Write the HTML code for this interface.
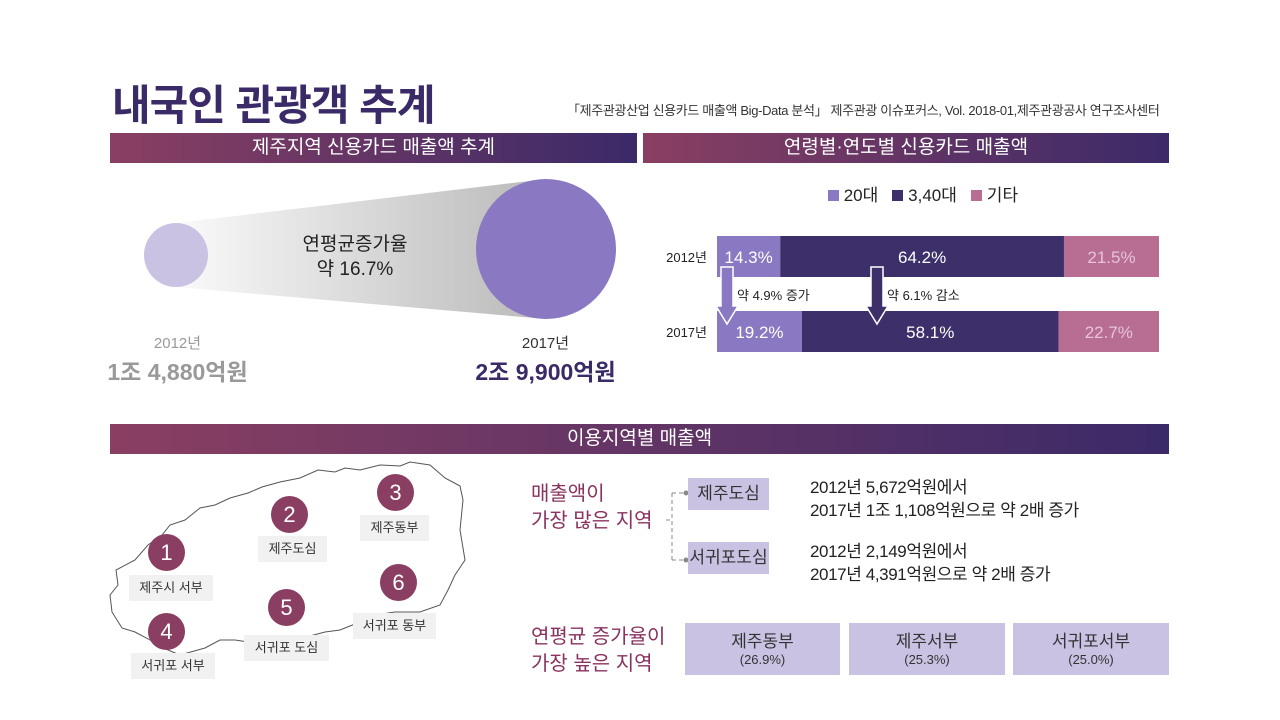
<!DOCTYPE html>
<html><head><meta charset="utf-8">
<style>
*{margin:0;padding:0;box-sizing:border-box}
body{width:1280px;height:720px;background:#fff;position:relative;overflow:hidden;font-family:"Liberation Sans","Noto Sans CJK KR",sans-serif;color:#222}
.a{position:absolute}
.hdr{position:absolute;height:30px;background:linear-gradient(90deg,#8a3f62,#3b2a68);color:#fff;font-size:19px;text-align:center;line-height:30px}
.lbl{position:absolute;background:#f1f1f1;font-size:13px;text-align:center;line-height:26px;color:#333}
.num{position:absolute;width:37px;height:37px;border-radius:50%;background:#8a3f62;color:#fff;font-size:22px;text-align:center;line-height:37px}
.box{position:absolute;background:#c9c2e3;text-align:center;color:#333}
</style></head><body>
<div class="a" style="left:112px;top:72px;font-size:42px;font-weight:bold;color:#3b2a68;letter-spacing:-1px">내국인 관광객 추계</div>
<div class="a" style="left:567px;top:100px;font-size:13px;color:#333;letter-spacing:-0.35px">「제주관광산업 신용카드 매출액 Big-Data 분석」 제주관광 이슈포커스, Vol. 2018-01,제주관광공사 연구조사센터</div>

<div class="hdr" style="left:110px;top:133px;width:527px">제주지역 신용카드 매출액 추계</div>
<div class="hdr" style="left:643px;top:133px;width:526px">연령별·연도별 신용카드 매출액</div>
<div class="hdr" style="left:110px;top:424px;width:1059px">이용지역별 매출액</div>

<svg class="a" style="left:0;top:0" width="1280" height="720">
<defs><linearGradient id="cone" x1="0" x2="1"><stop offset="0" stop-color="#fafafa"/><stop offset="1" stop-color="#b9b9b9"/></linearGradient></defs>
<polygon points="176,223 546,179 546,319 176,287" fill="url(#cone)"/>
<circle cx="176" cy="255" r="32" fill="#c9c2e3"/>
<circle cx="546" cy="249" r="70" fill="#8a78c2"/>
<path d="M112,612 L110,595 L118,585 L116,570 L135,560 L148,545 L162,535 L170,525 L185,520 L200,508 L215,505 L230,498 L248,493 L262,487 L280,482 L300,478 L318,470 L335,472 L345,468 L360,470 L380,465 L400,466 L410,462 L430,465 L445,478 L460,486 L463,500 L460,530 L465,560 L455,575 L448,590 L440,605 L420,612 L395,612 L375,615 L355,624 L340,630 L325,632 L310,636 L295,637 L285,640 L255,643 L235,640 L220,640 L205,648 L180,655 L168,650 L150,640 L135,632 L122,628 Z" fill="none" stroke="#555" stroke-width="1"/>
<path d="M666,520 L672,520 M672,493 L672,560 M672,493 L686,493 M672,560 L686,560" stroke="#888" stroke-dasharray="4,3" fill="none"/>
<circle cx="686" cy="493" r="2.5" fill="#888"/><circle cx="686" cy="560" r="2.5" fill="#888"/>
</svg>
<div class="a" style="left:290px;top:232px;width:130px;text-align:center;font-size:19px;line-height:25px;color:#222">연평균증가율<br>약 16.7%</div>
<div class="a" style="left:100px;top:332px;width:155px;text-align:center;color:#999"><div style="font-size:15px">2012년</div><div style="font-size:23px;font-weight:bold">1조 4,880억원</div></div>
<div class="a" style="left:468px;top:332px;width:155px;text-align:center;color:#3b2a68"><div style="font-size:15px;color:#333">2017년</div><div style="font-size:23px;font-weight:bold">2조 9,900억원</div></div>

<div class="a" style="left:828px;top:181px;font-size:17px;color:#222">
<span><span style="display:inline-block;width:11px;height:11px;background:#8a78c2"></span> 20대</span>&nbsp;&nbsp;
<span><span style="display:inline-block;width:11px;height:11px;background:#3d2f6a"></span> 3,40대</span>&nbsp;&nbsp;
<span><span style="display:inline-block;width:11px;height:11px;background:#b86d93"></span> 기타</span></div>
<svg id="bars" class="a" style="left:0;top:0" width="1280" height="720"></svg>

<div class="num" style="left:148px;top:534px">1</div>
<div class="num" style="left:271px;top:496px">2</div>
<div class="num" style="left:377px;top:474px">3</div>
<div class="num" style="left:148px;top:613px">4</div>
<div class="num" style="left:268px;top:589px">5</div>
<div class="num" style="left:380px;top:564px">6</div>
<div class="lbl" style="left:129px;top:575px;width:84px">제주시 서부</div>
<div class="lbl" style="left:258px;top:536px;width:69px">제주도심</div>
<div class="lbl" style="left:360px;top:515px;width:69px">제주동부</div>
<div class="lbl" style="left:131px;top:653px;width:84px">서귀포 서부</div>
<div class="lbl" style="left:244px;top:635px;width:85px">서귀포 도심</div>
<div class="lbl" style="left:353px;top:613px;width:83px">서귀포 동부</div>

<div class="a" style="left:531px;top:481px;font-size:20px;line-height:27px;color:#8a3260">매출액이<br>가장 많은 지역</div>
<div class="box" style="left:688px;top:478px;width:81px;height:32px;font-size:17px;line-height:32px">제주도심</div>
<div class="box" style="left:688px;top:542px;width:81px;height:32px;font-size:17px;line-height:32px">서귀포도심</div>
<div class="a" style="left:810px;top:476px;font-size:17px;line-height:23px;letter-spacing:-0.4px">2012년 5,672억원에서<br>2017년 1조 1,108억원으로 약 2배 증가</div>
<div class="a" style="left:810px;top:540px;font-size:17px;line-height:23px;letter-spacing:-0.4px">2012년 2,149억원에서<br>2017년 4,391억원으로 약 2배 증가</div>

<div class="a" style="left:531px;top:624px;font-size:20px;line-height:27px;color:#8a3260">연평균 증가율이<br>가장 높은 지역</div>
<div class="box" style="left:685px;top:623px;width:155px;height:52px;padding-top:4px"><div style="font-size:17px">제주동부</div><div style="font-size:13px">(26.9%)</div></div>
<div class="box" style="left:849px;top:623px;width:156px;height:52px;padding-top:4px"><div style="font-size:17px">제주서부</div><div style="font-size:13px">(25.3%)</div></div>
<div class="box" style="left:1013px;top:623px;width:156px;height:52px;padding-top:4px"><div style="font-size:17px">서귀포서부</div><div style="font-size:13px">(25.0%)</div></div>

<script>
const years=["2012년","2017년"];
const share20s=[14.3,19.2];
const share3040s=[64.2,58.1];
const shareOther=[21.5,22.7];
const changeNotes=["약 4.9% 증가","약 6.1% 감소"];
const svg=document.getElementById('bars');
const NS="http://www.w3.org/2000/svg";
const x0=717,W=442,rowY=[236,311],H=41;
function xs(v){return v/100*W;}
function mk(t,a){const e=document.createElementNS(NS,t);for(const k in a)e.setAttribute(k,a[k]);svg.appendChild(e);return e;}
const series=[[share20s,"#8a78c2","#fff","20s"],[share3040s,"#3d2f6a","#fff","30-40s"],[shareOther,"#b86d93","#e6c4d6","other"]];
years.forEach((y,i)=>{
  const t=mk('text',{x:x0-10,y:rowY[i]+26,'text-anchor':'end','font-size':13,fill:'#222'});t.textContent=y;
  
  
  let cx=x0;
  series.forEach(s=>{
    const w=xs(s[0][i]);
    const r=mk('rect',{x:cx,y:rowY[i],width:w,height:H,fill:s[1]});
    
    
    const tx=mk('text',{x:cx+w/2,y:rowY[i]+27,'text-anchor':'middle','font-size':17,fill:s[2]});
    tx.textContent=s[0][i].toFixed(1)+'%';
    
    
    cx+=w;
  });
});
[["#8a78c2",changeNotes[0]],["#3d2f6a",changeNotes[1]]].forEach((a,k)=>{
  const x=k==0?727:877;
  const p=mk('path',{d:`M${x-6},267 L${x+6},267 L${x+6},306 L${x+11},306 L${x},324 L${x-11},306 L${x-6},306 Z`,fill:a[0],stroke:'#fff','stroke-width':1.5});
  
  
  const t=mk('text',{x:x+10,y:300,'font-size':13,fill:'#222'});t.textContent=a[1];
  
  
});
</script>
</body></html>
